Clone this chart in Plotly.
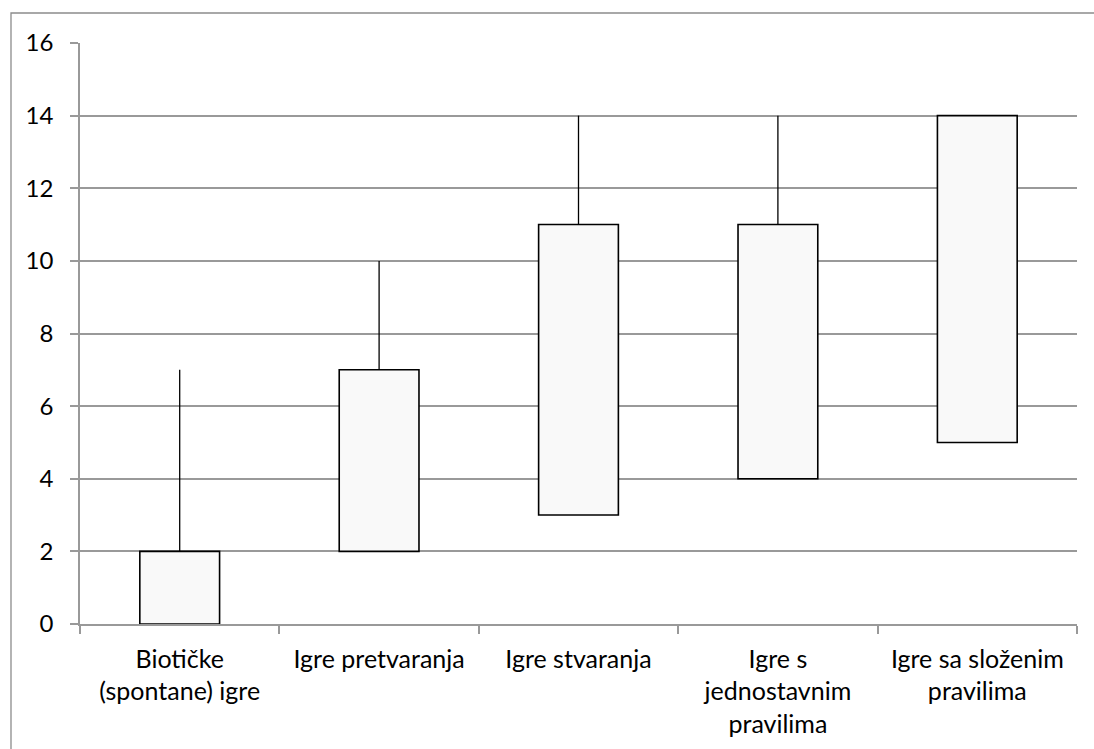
import plotly.graph_objects as go

categories = ["Biotičke<br>(spontane) igre", "Igre pretvaranja", "Igre stvaranja",
              "Igre s<br>jednostavnim<br>pravilima", "Igre sa složenim<br>pravilima"]
box_low = [0, 2, 3, 4, 5]
box_high = [2, 7, 11, 11, 14]
whisker_high = [7, 10, 14, 14, 14]
y_ticks = [0, 2, 4, 6, 8, 10, 12, 14, 16]

FONT = "Lato"

fig = go.Figure()

fig.add_trace(go.Bar(
    x=categories,
    y=[h - l for h, l in zip(box_high, box_low)],
    base=box_low,
    width=0.4,
    marker=dict(color="#F9F9F9", line=dict(color="black", width=1.6)),
    hoverinfo="skip",
))

wx, wy = [], []
for c, b, w in zip(categories, box_high, whisker_high):
    if w > b:
        wx += [c, c, None]
        wy += [b, w, None]
fig.add_trace(go.Scatter(x=wx, y=wy, mode="lines",
                         line=dict(color="black", width=1.3), hoverinfo="skip"))

fig.add_shape(type="rect", xref="paper", yref="paper",
              x0=(11 - 80) / 997, x1=1.2, y0=-0.4, y1=(624 - 13) / 581,
              line=dict(color="#8C8C8C", width=1.3), fillcolor="rgba(0,0,0,0)",
              layer="below")

fig.update_layout(
    width=1094, height=749,
    margin=dict(l=80, r=17, t=43, b=125),
    paper_bgcolor="white", plot_bgcolor="white",
    showlegend=False,
    font=dict(family=FONT, size=25, color="black"),
    xaxis=dict(
        type="category",
        tickson="boundaries",
        ticks="outside", ticklen=8, tickcolor="#999999", tickwidth=1.5,
        showline=True, linecolor="#999999", linewidth=1.5,
        showgrid=False,
        ticklabelstandoff=12,
        tickfont=dict(family=FONT, size=25, color="black"),
    ),
    yaxis=dict(
        range=[0, 16],
        tickvals=y_ticks,
        ticks="outside", ticklen=8, tickcolor="#999999", tickwidth=1.5,
        showline=True, linecolor="#999999", linewidth=1.5,
        showgrid=True, gridcolor="#999999", gridwidth=1.5,
        zeroline=False,
        ticklabelstandoff=12,
        tickfont=dict(family=FONT, size=24, color="black"),
    ),
)

fig.write_html("out.html", config={"displayModeBar": False},
               post_script="document.body.style.margin='0';")
